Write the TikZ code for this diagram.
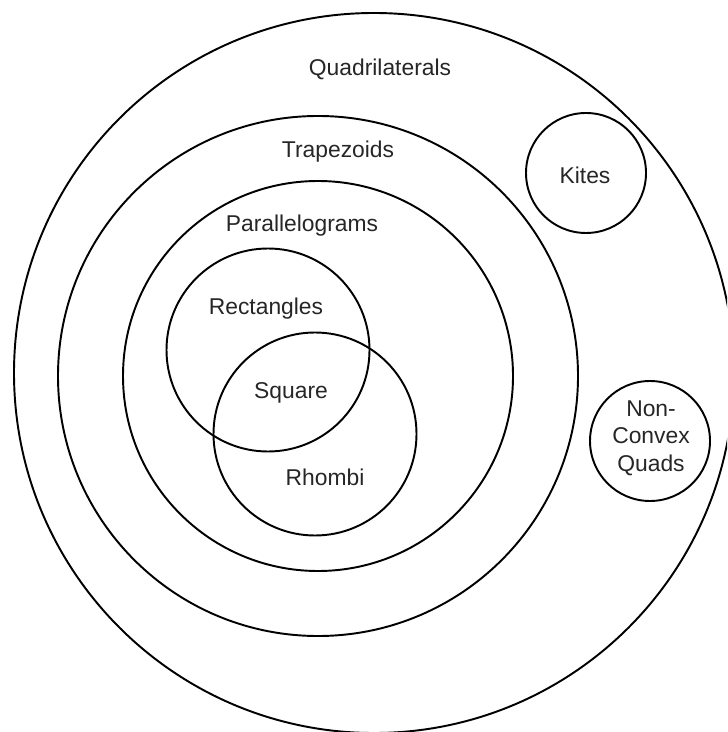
\documentclass[tikz,border=0pt]{standalone}
\usepackage{fontspec}
\setmainfont{Liberation Sans}
\usetikzlibrary{positioning}

\begin{document}
\begin{tikzpicture}[x=0.02cm, y=-0.02cm]
\tikzset{setline/.style={color=black, line width=1.1pt},
    setname/.style={font=\fontsize{13}{15.6}\selectfont, text=black!85, inner sep=0pt, align=center}}
\useasboundingbox (0,0) rectangle (727,732);
\clip (0,0) rectangle (727,732);

    \draw [setline] (374,373) circle (360);
    \draw [setline] (318,376) circle (260);
    \draw [setline] (318,376) circle (195);
    \draw [setline] (268,350) circle (101.5);
    \draw [setline] (315,434) circle (101.5);
    \draw [setline] (586,173) circle (60);
    \draw [setline] (650,441) circle (60);

    \node (quad) [setname] at (380,69) {Quadrilaterals};
    \node (trap) [setname] at (338,152) {Trapezoids};
    \node (para) [setname] at (302,226) {Parallelograms};
    \node (rect) [setname] at (266,309) {Rectangles};
    \node (square) [setname] at (291,393) {Square};
    \node (rhombi) [setname] at (325,477) {Rhombi};
    \node (kites) [setname] at (585,175) {Kites};
    \node (nonconvex) [setname] at (651,438) {Non-\\Convex\\Quads};

\end{tikzpicture}
\end{document}
